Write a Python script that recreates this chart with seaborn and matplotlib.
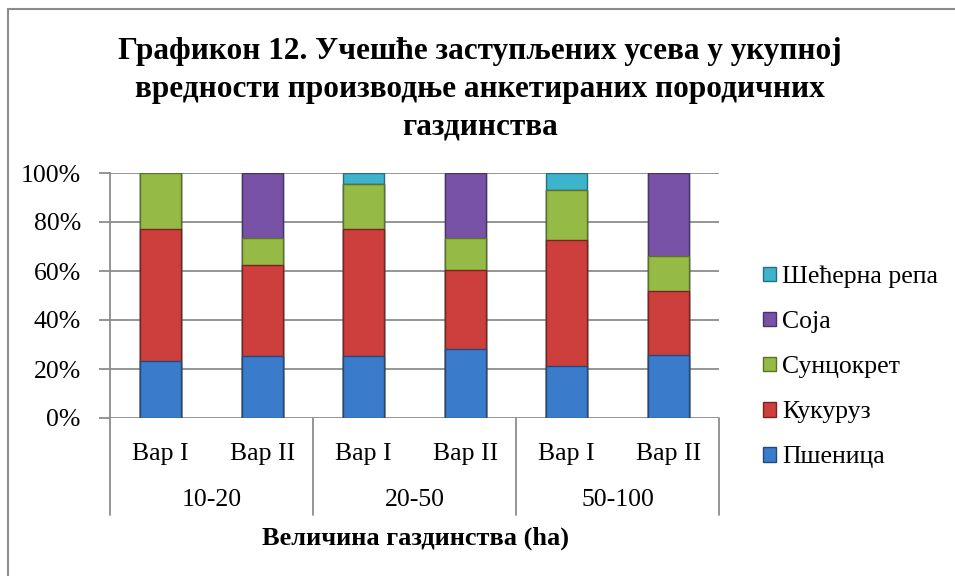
import matplotlib
matplotlib.use("Agg")
import matplotlib.pyplot as plt
import seaborn as sns
import numpy as np
import pandas as pd
from matplotlib.patches import Rectangle
from matplotlib.lines import Line2D

# ---- data ----
variants = ["Вар I", "Вар II", "Вар I", "Вар II", "Вар I", "Вар II"]
groups = ["10-20", "20-50", "50-100"]
series_names = ["Пшеница", "Кукуруз", "Сунцокрет", "Соја", "Шећерна репа"]
psenica = [23.1, 25.4, 25.2, 28.3, 21.1, 25.6]
kukuruz = [54.2, 37.0, 52.1, 32.2, 51.4, 26.4]
suncokret = [22.7, 10.9, 18.2, 12.8, 20.6, 14.0]
soja = [0.0, 26.7, 0.0, 26.7, 0.0, 34.0]
secerna_repa = [0.0, 0.0, 4.5, 0.0, 6.9, 0.0]
yticks = [0, 20, 40, 60, 80, 100]
ytick_labels = ["0%", "20%", "40%", "60%", "80%", "100%"]

colors = ["#3A7CCB", "#CC3F3C", "#95BA45", "#7852A6", "#3DB4CC"]
edge_colors = ["#22497A", "#7A2422", "#5A7329", "#4A3366", "#24707F"]

sns.set_style("white")
plt.rcParams["font.family"] = ["Liberation Serif", "DejaVu Serif"]
plt.rcParams["text.color"] = "black"
plt.rcParams["ytick.color"] = "black"

fig = plt.figure(figsize=(9.55, 5.76), dpi=100)
W, H = 955, 576
ax = fig.add_axes([110 / W, 1 - 418 / H, (719 - 110) / W, (418 - 173) / H])

values = [psenica, kukuruz, suncokret, soja, secerna_repa]
cum = np.cumsum(np.array(values), axis=0)
slot = [f"{i}" for i in range(len(variants))]

# draw cumulative bars from top layer to bottom layer
for k in range(len(series_names) - 1, -1, -1):
    df = pd.DataFrame({"slot": slot, "val": cum[k]})
    sns.barplot(data=df, x="slot", y="val", order=slot, color=colors[k],
                width=0.4, ax=ax, saturation=1, edgecolor=edge_colors[k],
                linewidth=1.0, zorder=3)

FS = 18.5
ax.set_ylim(0, 100)
ax.set_xlim(-0.5, len(variants) - 0.5)
ax.set_yticks(yticks)
ax.set_yticklabels(ytick_labels, fontsize=FS, color="black")
ax.set_xticks([])
ax.set_xlabel("")
ax.set_ylabel("")
grid_c = "#8C8C8C"
for y in yticks:
    ax.axhline(y, color=grid_c, lw=1.3, zorder=1)
for s in ["top", "right", "bottom"]:
    ax.spines[s].set_visible(False)
ax.spines["left"].set_color(grid_c)
ax.spines["left"].set_linewidth(1.3)
ax.tick_params(axis="y", length=8, width=1.3, color=grid_c, pad=13, left=True,
               labelcolor="black")

# category labels (two levels)
trans = ax.get_xaxis_transform()
for i, v in enumerate(variants):
    ax.text(i, -0.145, v, transform=trans, ha="center", va="center", fontsize=FS)
for g, name in enumerate(groups):
    ax.text(2 * g + 0.5, -0.335, name, transform=trans, ha="center", va="center", fontsize=FS)
for xs in [-0.5, 1.5, 3.5, 5.5]:
    ax.add_line(Line2D([xs, xs], [0, -0.396], transform=trans, color=grid_c,
                       lw=1.3, clip_on=False))

fig.text(415 / W, 1 - 538 / H, "Величина газдинства (ha)", ha="center", va="center",
         fontsize=19, fontweight="bold")

fig.text(480 / W, 1 - 89 / H,
         "Графикон 12. Учешће заступљених усева у укупној\n"
         "вредности производње анкетираних породичних\n"
         "газдинства",
         ha="center", va="center", fontsize=22.5, fontweight="bold", linespacing=1.4)

# legend
handles = [Rectangle((0, 0), 1, 1, facecolor=colors[k], edgecolor=edge_colors[k], lw=1)
           for k in range(len(series_names) - 1, -1, -1)]
labels = [series_names[k] for k in range(len(series_names) - 1, -1, -1)]
leg = fig.legend(handles, labels, loc="center left", bbox_to_anchor=(750 / W, 1 - 367 / H),
                 frameon=False, fontsize=FS, handlelength=0.5, handleheight=0.5,
                 handletextpad=0.25, labelspacing=0.9, borderpad=0)

# outer border
fig.patches.append(Rectangle((8 / W, -0.1), 1.2, 1 - 9 / H + 0.1, transform=fig.transFigure,
                             fill=False, edgecolor="#8C8C8C", lw=1.5))

fig.savefig("out.png", dpi=100)
